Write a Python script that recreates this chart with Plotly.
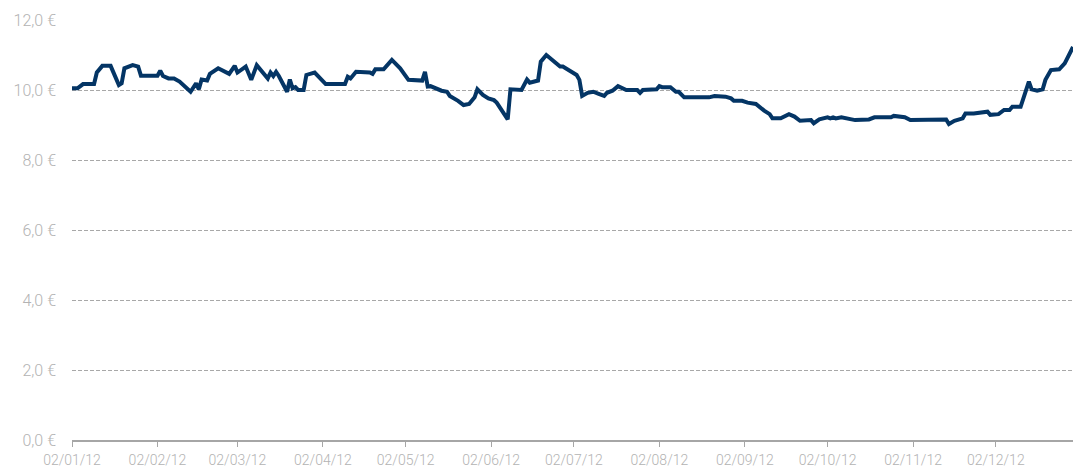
import plotly.graph_objects as go

dates = [
    "01-02", "01-04", "01-06", "01-10", "01-11", "01-13", "01-16", "01-18", "01-19", "01-20",
    "01-21", "01-24", "01-25", "01-26", "01-27", "02-02", "02-03", "02-04", "02-06", "02-08",
    "02-10", "02-14", "02-16", "02-17", "02-18", "02-20", "02-21", "02-24", "02-28", "03-01",
    "03-02", "03-05", "03-07", "03-09", "03-13", "03-14", "03-15", "03-16", "03-17", "03-20",
    "03-21", "03-22", "03-23", "03-24", "03-26", "03-27", "03-30", "04-03", "04-10", "04-11",
    "04-12", "04-14", "04-19", "04-20", "04-21", "04-24", "04-27", "04-30", "05-03", "05-08",
    "05-09", "05-10", "05-11", "05-12", "05-13", "05-15", "05-17", "05-18", "05-21", "05-23",
    "05-25", "05-27", "05-28", "05-30", "06-01", "06-03", "06-04", "06-06", "06-08", "06-09",
    "06-13", "06-15", "06-16", "06-19", "06-20", "06-22", "06-25", "06-27", "06-28", "06-30",
    "07-02", "07-03", "07-04", "07-05", "07-07", "07-09", "07-11", "07-13", "07-14", "07-16",
    "07-18", "07-21", "07-25", "07-26", "07-27", "08-01", "08-02", "08-03", "08-06", "08-08",
    "08-09", "08-11", "08-20", "08-22", "08-26", "08-28", "08-29", "09-01", "09-03", "09-06",
    "09-09", "09-11", "09-12", "09-15", "09-18", "09-20", "09-22", "09-26", "09-27", "09-29",
    "10-02", "10-03", "10-04", "10-05", "10-07", "10-12", "10-17", "10-19", "10-25", "10-26",
    "10-30", "11-01", "11-14", "11-15", "11-17", "11-20", "11-21", "11-24", "11-29", "11-30",
    "12-03", "12-05", "12-07", "12-08", "12-11", "12-14", "12-15", "12-17", "12-19", "12-20",
    "12-22", "12-25", "12-27", "12-29", "12-30",
]
prices = [
    10.05, 10.05, 10.17, 10.17, 10.50, 10.69, 10.69, 10.27, 10.14, 10.19,
    10.62, 10.71, 10.69, 10.67, 10.41, 10.41, 10.55, 10.40, 10.33, 10.33,
    10.24, 9.95, 10.19, 10.02, 10.30, 10.27, 10.46, 10.62, 10.46, 10.69,
    10.50, 10.67, 10.29, 10.71, 10.33, 10.50, 10.40, 10.52, 10.40, 9.95,
    10.30, 10.05, 10.08, 10.00, 10.00, 10.43, 10.50, 10.17, 10.17, 10.38,
    10.33, 10.52, 10.50, 10.46, 10.59, 10.59, 10.86, 10.62, 10.29, 10.27,
    10.52, 10.10, 10.11, 10.08, 10.02, 9.98, 9.95, 9.83, 9.69, 9.57,
    9.60, 9.79, 10.02, 9.86, 9.76, 9.71, 9.64, 9.38, 9.16, 10.02,
    10.00, 10.30, 10.21, 10.27, 10.81, 11.00, 10.81, 10.67, 10.67, 10.57,
    10.48, 10.43, 10.29, 9.83, 9.92, 9.95, 9.89, 9.83, 9.92, 9.98,
    10.11, 10.00, 10.00, 9.92, 10.00, 10.02, 10.11, 10.08, 10.08, 9.95,
    9.95, 9.79, 9.79, 9.83, 9.81, 9.76, 9.69, 9.69, 9.64, 9.60,
    9.41, 9.31, 9.19, 9.19, 9.31, 9.24, 9.12, 9.14, 9.05, 9.16,
    9.22, 9.19, 9.22, 9.19, 9.22, 9.14, 9.16, 9.22, 9.22, 9.26,
    9.22, 9.14, 9.16, 9.03, 9.12, 9.19, 9.33, 9.33, 9.38, 9.29,
    9.31, 9.43, 9.43, 9.52, 9.52, 10.24, 10.02, 9.98, 10.02, 10.29,
    10.57, 10.59, 10.76, 11.12, 11.23,
]
year = "2012"
x_tick_dates = ["01-02", "02-02", "03-02", "04-02", "05-02", "06-02", "07-02",
                "08-02", "09-02", "10-02", "11-02", "12-02"]
x_tick_labels = ["02/01/12", "02/02/12", "02/03/12", "02/04/12", "02/05/12", "02/06/12",
                 "02/07/12", "02/08/12", "02/09/12", "02/10/12", "02/11/12", "02/12/12"]
y_tick_vals = [0, 2, 4, 6, 8, 10, 12]
y_tick_labels = ["0,0 €", "2,0 €", "4,0 €", "6,0 €", "8,0 €", "10,0 €", "12,0 €"]

x_full = [f"{year}-{d}" for d in dates]
xt_full = [f"{year}-{d}" for d in x_tick_dates]

font_family = "Roboto, sans-serif"
label_color = "#b3b3b3"

fig = go.Figure()
fig.add_trace(go.Scatter(
    x=x_full, y=prices, mode="lines",
    line=dict(color="#043565", width=4, shape="linear"),
    hoverinfo="x+y", showlegend=False,
))

fig.update_layout(
    width=1073, height=470,
    margin=dict(l=72, r=0, t=20, b=30, autoexpand=False),
    paper_bgcolor="white", plot_bgcolor="white",
    font=dict(family=font_family, color=label_color),
)
fig.update_xaxes(
    type="date", automargin=False,
    range=[f"{year}-01-02", f"{year}-12-30"],
    tickvals=xt_full, ticktext=x_tick_labels,
    tickfont=dict(size=14, color=label_color, weight=300),
    showgrid=False, zeroline=False,
    showline=True, linecolor="#a6a6a6", linewidth=1.5,
    ticks="outside", ticklen=5, tickcolor="#a6a6a6", tickwidth=1,
    ticklabelstandoff=1,
)
fig.update_yaxes(
    range=[0, 12], automargin=False,
    tickvals=y_tick_vals, ticktext=y_tick_labels,
    tickfont=dict(size=16, color=label_color, weight=300),
    showgrid=True, gridcolor="#a8a8a8", gridwidth=1, griddash="4px,2px",
    zeroline=False, showline=False, ticks="",
    ticklabelstandoff=15,
)

fig.write_html(
    "out.html",
    config={"displayModeBar": False},
    post_script="document.body.style.margin='0';document.body.style.padding='0';",
)
